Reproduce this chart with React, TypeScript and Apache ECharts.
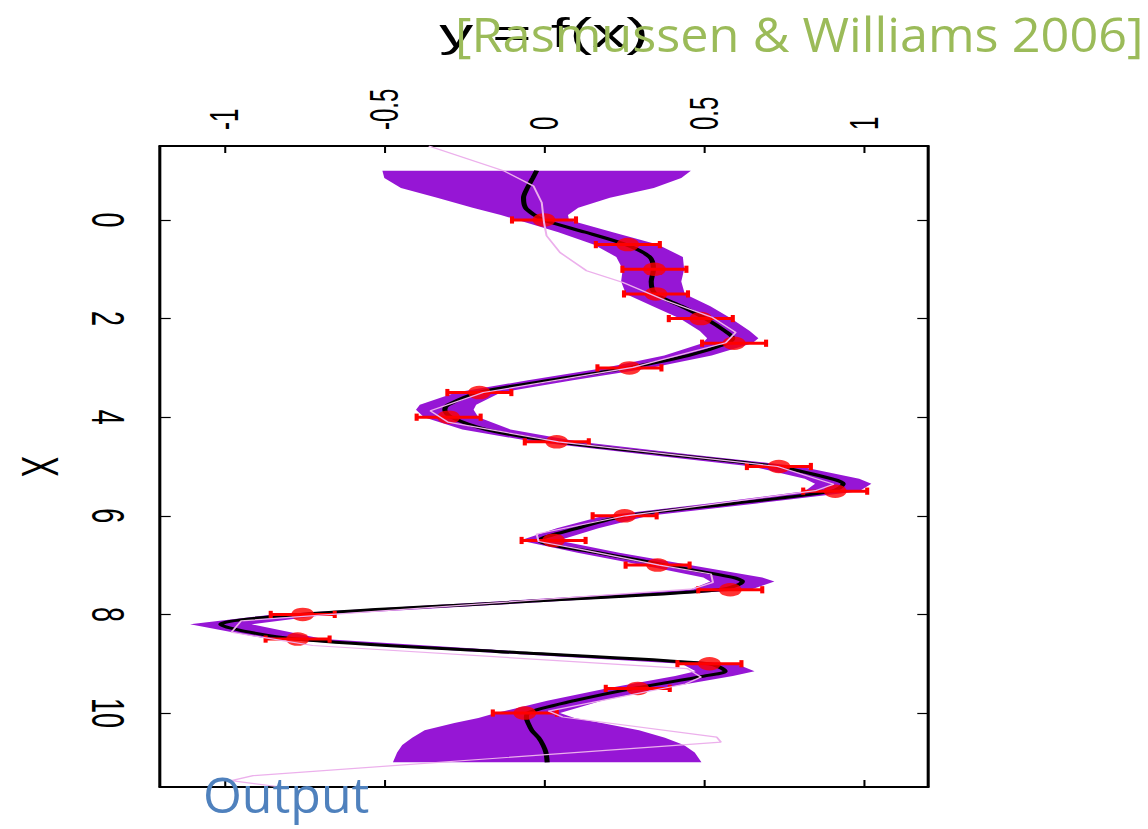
import React, { useEffect, useRef } from "react";
import * as echarts from "echarts";

// ---------- data ----------
// GP posterior: input X, mean and half-width of the shaded band
const gridX = [-1, -0.85, -0.65, -0.45, -0.25, -0.1, 0, 0.25, 0.5, 0.75, 1, 1.25, 1.5, 1.75, 2, 2.25, 2.4, 2.5, 2.75, 3, 3.25, 3.5, 3.75, 3.85, 4, 4.25, 4.5, 4.75, 5, 5.25, 5.35, 5.5, 5.75, 6, 6.25, 6.5, 6.75, 7, 7.25, 7.33, 7.5, 7.75, 8, 8.2, 8.5, 8.75, 9, 9.15, 9.25, 9.5, 9.75, 10, 10.1, 10.2, 10.35, 10.5, 10.65, 10.8, 11];
const gpMean = [-0.023, -0.035, -0.052, -0.064, -0.058, -0.03, -0.002, 0.13, 0.255, 0.33, 0.342, 0.335, 0.348, 0.43, 0.505, 0.565, 0.59, 0.573, 0.45, 0.26, 0.02, -0.205, -0.3, -0.31, -0.29, -0.18, 0.04, 0.38, 0.725, 0.9, 0.935, 0.9, 0.59, 0.257, 0.105, -0.015, 0.17, 0.38, 0.59, 0.62, 0.55, -0.09, -0.76, -1.01, -0.775, -0.15, 0.515, 0.566, 0.5, 0.28, 0.095, -0.05, -0.055, -0.05, -0.038, -0.017, -0.003, 0.006, 0.01];
const gpHalfWidth = [0.482, 0.464, 0.395, 0.27, 0.165, 0.105, 0.08, 0.085, 0.1, 0.104, 0.096, 0.094, 0.092, 0.09, 0.08, 0.078, 0.08, 0.078, 0.074, 0.072, 0.07, 0.07, 0.088, 0.09, 0.085, 0.075, 0.07, 0.07, 0.075, 0.085, 0.088, 0.085, 0.075, 0.07, 0.065, 0.06, 0.065, 0.075, 0.092, 0.1, 0.095, 0.085, 0.085, 0.096, 0.085, 0.075, 0.085, 0.092, 0.09, 0.085, 0.085, 0.1, 0.15, 0.23, 0.335, 0.395, 0.44, 0.465, 0.482];

// observations with error bars
const obsX = [0, 0.5, 1, 1.5, 2, 2.5, 3, 3.5, 4, 4.5, 5, 5.5, 6, 6.5, 7, 7.5, 8, 8.5, 9, 9.5, 10];
const obsY = [0.0, 0.262, 0.345, 0.35, 0.49, 0.594, 0.267, -0.202, -0.298, 0.04, 0.734, 0.91, 0.252, 0.03, 0.355, 0.582, -0.754, -0.77, 0.517, 0.293, -0.06];
const obsErr = [0.1, 0.1, 0.1, 0.1, 0.1, 0.1, 0.1, 0.1, 0.1, 0.1, 0.1, 0.1, 0.1, 0.1, 0.1, 0.1, 0.1, 0.1, 0.1, 0.1, 0.1];

// thin pink reference curve
const truthX = [-1.5, -1.0, -0.69, -0.35, 0.05, 0.32, 0.66, 1.03, 1.27, 1.64, 1.98, 2.28, 2.49, 2.99, 3.5, 3.87, 4.1, 4.5, 5.0, 5.36, 5.49, 6.0, 6.37, 6.52, 6.67, 7.0, 7.18, 7.35, 7.48, 8.13, 8.36, 8.46, 8.63, 9.1, 9.27, 9.41, 9.96, 10.08, 10.49, 10.59, 11.27, 11.37, 11.5];
const truthY = [-0.36, -0.127, -0.033, -0.007, 0.0, 0.008, 0.05, 0.133, 0.247, 0.382, 0.527, 0.599, 0.568, 0.278, -0.19, -0.355, -0.3, 0.045, 0.73, 0.905, 0.848, 0.255, -0.023, -0.017, 0.107, 0.36, 0.522, 0.528, 0.467, -0.946, -0.977, -0.884, -0.723, 0.448, 0.491, 0.442, 0.014, 0.058, 0.54, 0.553, -0.909, -0.977, -0.822];

// ticks
const fTicks = [-1, -0.5, 0, 0.5, 1];
const xTicks = [0, 2, 4, 6, 8, 10];

// ---------- layout ----------
const S = 1.7; // the reference picture is stretched horizontally
const W = 1148;
const H = 829;
const FONT = "Liberation Sans";

const axisLine = { show: true, onZero: false, lineStyle: { color: "#000", width: 1.8 } };

function buildOption() {
  const bandSeries = {
    type: "custom",
    z: 1,
    clip: true,
    silent: true,
    data: [[0, 5]],
    renderItem: (_p: any, api: any) => {
      const pts: number[][] = [];
      for (let i = 0; i < gridX.length; i++) pts.push(api.coord([gpMean[i] - gpHalfWidth[i], gridX[i]]));
      for (let i = gridX.length - 1; i >= 0; i--) pts.push(api.coord([gpMean[i] + gpHalfWidth[i], gridX[i]]));
      return { type: "polygon", shape: { points: pts }, style: { fill: "#9616d5", stroke: "none" } };
    },
  };

  const meanSeries = {
    type: "line",
    z: 2,
    data: gridX.map((x, i) => [gpMean[i], x]),
    showSymbol: false,
    smooth: 0.3,
    lineStyle: { color: "#000", width: 3 },
    silent: true,
  };

  const errSeries = {
    type: "custom",
    z: 3,
    silent: true,
    data: obsX.map((x, i) => [obsY[i], x, obsErr[i]]),
    encode: { x: 0, y: 1 },
    renderItem: (_p: any, api: any) => {
      const v = api.value(0);
      const x = api.value(1);
      const e = api.value(2);
      const lo = api.coord([v - e, x]);
      const hi = api.coord([v + e, x]);
      const c = 3.6;
      const st = { stroke: "#ff0000", lineWidth: 3 };
      const cs = { stroke: "#ff0000", lineWidth: 2.4 };
      return {
        type: "group",
        children: [
          { type: "line", shape: { x1: lo[0], y1: lo[1], x2: hi[0], y2: hi[1] }, style: st },
          { type: "line", shape: { x1: lo[0], y1: lo[1] - c, x2: lo[0], y2: lo[1] + c }, style: cs },
          { type: "line", shape: { x1: hi[0], y1: hi[1] - c, x2: hi[0], y2: hi[1] + c }, style: cs },
        ],
      };
    },
  };

  const pointSeries = {
    type: "scatter",
    z: 4,
    data: obsX.map((x, i) => [obsY[i], x]),
    symbol: "circle",
    symbolSize: 13.5,
    itemStyle: { color: "#ff0000" },
    silent: true,
  };

  const truthSeries = {
    type: "line",
    z: 5,
    data: truthX.map((x, i) => [truthY[i], x]),
    showSymbol: false,
    lineStyle: { color: "#ecb0ec", width: 1.2 },
    silent: true,
  };

  return {
    animation: false,
    backgroundColor: "#fff",
    textStyle: { fontFamily: FONT },
    grid: { left: 160 / S, width: 768 / S, top: 146, height: 641, containLabel: false, outerBoundsMode: "none" },
    xAxis: [
      {
        type: "value",
        position: "top",
        min: -1.2,
        max: 1.2,
        name: "y = f(x)",
        nameLocation: "middle",
        nameGap: 93,
        nameTextStyle: { fontSize: 40, color: "#000", fontFamily: FONT },
        axisLine,
        axisTick: { show: true, inside: true, length: 7, lineStyle: { color: "#000", width: 1.2 }, customValues: fTicks },
        axisLabel: {
          show: true,
          rotate: -90,
          margin: 16,
          fontSize: 24,
          color: "#000",
          fontFamily: FONT,
          customValues: fTicks,
          formatter: (v: number) => String(v),
        },
        splitLine: { show: false },
      },
      {
        type: "value",
        position: "bottom",
        min: -1.2,
        max: 1.2,
        axisLine,
        axisTick: { show: true, inside: true, length: 7, lineStyle: { color: "#000", width: 1.2 }, customValues: fTicks },
        axisLabel: { show: false },
        splitLine: { show: false },
      },
    ],
    yAxis: [
      {
        type: "value",
        position: "left",
        inverse: true,
        min: -1.5,
        max: 11.5,
        name: "X",
        nameLocation: "middle",
        nameRotate: -90,
        nameGap: 55,
        nameTextStyle: { fontSize: 31, color: "#000", fontFamily: FONT },
        axisLine,
        axisTick: { show: true, inside: true, length: 6.3, lineStyle: { color: "#000", width: 1.2 }, customValues: xTicks },
        axisLabel: {
          show: true,
          rotate: -90,
          margin: 17,
          fontSize: 27,
          color: "#000",
          fontFamily: FONT,
          customValues: xTicks,
          formatter: (v: number) => String(v),
        },
        splitLine: { show: false },
      },
      {
        type: "value",
        position: "right",
        inverse: true,
        min: -1.5,
        max: 11.5,
        axisLine,
        axisTick: { show: true, inside: true, length: 6.3, lineStyle: { color: "#000", width: 1.2 }, customValues: xTicks },
        axisLabel: { show: false },
        splitLine: { show: false },
      },
    ],
    series: [bandSeries, meanSeries, errSeries, pointSeries, truthSeries],
    graphic: [
      {
        type: "text",
        x: 455 / S,
        y: 33,
        scaleX: 1.05 / S,
        z: 100,
        style: {
          text: "[Rasmussen & Williams 2006]",
          fill: "#9BBB59",
          fontSize: 48,
          fontFamily: "Open Sans",
          align: "left",
          verticalAlign: "middle",
          textAlign: "left",
          textVerticalAlign: "middle",
        },
      },
      {
        type: "text",
        x: 203 / S,
        y: 794,
        scaleX: 1 / S,
        z: 100,
        style: {
          text: "Output",
          fill: "#4F81BD",
          fontSize: 50,
          fontFamily: "Open Sans",
          align: "left",
          verticalAlign: "middle",
          textAlign: "left",
          textVerticalAlign: "middle",
        },
      },
    ],
  };
}

export default function App() {
  const ref = useRef<HTMLDivElement>(null);
  useEffect(() => {
    if (!ref.current) return;
    const chart = echarts.init(ref.current, null, { renderer: "svg" });
    chart.setOption(buildOption() as any);
    return () => chart.dispose();
  }, []);
  return (
    <div style={{ position: "fixed", left: 0, top: 0, width: W, height: H, overflow: "hidden", background: "#fff" }}>
      <div
        ref={ref}
        style={{ width: W / S, height: H, transform: `scaleX(${S})`, transformOrigin: "0 0" }}
      />
    </div>
  );
}
